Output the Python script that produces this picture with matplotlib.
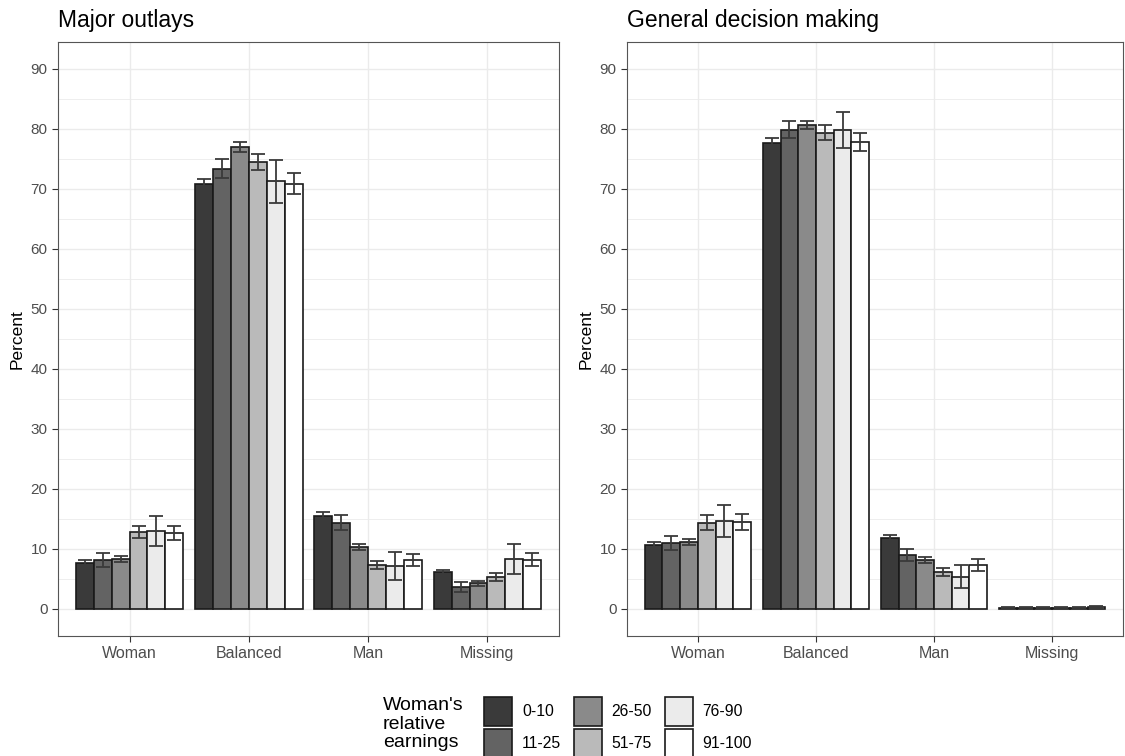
import numpy as np
import matplotlib
matplotlib.use("Agg")
import matplotlib.pyplot as plt
from matplotlib.patches import Patch

plt.rcParams['font.family'] = ['Liberation Sans', 'DejaVu Sans']

categories = ["Woman", "Balanced", "Man", "Missing"]
groups = ["0-10", "11-25", "26-50", "51-75", "76-90", "91-100"]
colors = ["#3a3a3a", "#636363", "#8a8a8a", "#bababa", "#ebebeb", "#ffffff"]

# major outlays: rows = category, cols = earnings group
outlays = [
    [7.7, 8.2, 8.4, 12.9, 13.0, 12.7],
    [70.8, 73.4, 77.0, 74.5, 71.3, 70.9],
    [15.5, 14.4, 10.3, 7.3, 7.2, 8.1],
    [6.1, 3.7, 4.3, 5.3, 8.4, 8.2],
]
outlays_err = [
    [0.5, 1.2, 0.5, 1.0, 2.5, 1.2],
    [0.9, 1.6, 0.8, 1.4, 3.6, 1.75],
    [0.7, 1.2, 0.5, 0.7, 2.3, 1.0],
    [0.4, 0.8, 0.4, 0.7, 2.5, 1.1],
]

# general decision making
general = [
    [10.6, 11.0, 11.2, 14.4, 14.7, 14.5],
    [77.6, 79.9, 80.7, 79.4, 79.9, 77.9],
    [11.8, 9.0, 8.1, 6.2, 5.4, 7.4],
    [0.2, 0.25, 0.2, 0.2, 0.2, 0.35],
]
general_err = [
    [0.6, 1.1, 0.5, 1.2, 2.7, 1.3],
    [0.85, 1.4, 0.7, 1.3, 3.0, 1.5],
    [0.6, 1.0, 0.5, 0.7, 1.95, 1.0],
    [0.1, 0.1, 0.1, 0.1, 0.1, 0.15],
]

W, H = 1125, 756
fig = plt.figure(figsize=(W / 100, H / 100), dpi=100)
ax1 = fig.add_axes([58 / W, 120 / H, 501 / W, 594 / H])
ax2 = fig.add_axes([627 / W, 120 / H, 496 / W, 594 / H])


def draw_panel(ax, vals, errs, title):
    vals = np.array(vals)
    errs = np.array(errs)
    x = np.arange(len(categories)) + 1
    n = len(groups)
    bw = 0.9 / n
    for j in range(n):
        xs = x - 0.45 + bw * (j + 0.5)
        ax.bar(xs, vals[:, j], width=bw, color=colors[j], edgecolor="#1a1a1a",
               linewidth=1.2, zorder=3)
        ax.errorbar(xs, vals[:, j], yerr=errs[:, j], fmt="none", ecolor="#3a3a3a",
                    elinewidth=1.3, capsize=5, capthick=1.3, zorder=4)
    ax.set_xlim(0.4, len(categories) + 0.6)
    ax.set_ylim(-4.5, 94.5)
    ax.set_xticks(x)
    ax.set_xticklabels(categories)
    ax.set_yticks(np.arange(0, 91, 10))
    ax.set_yticks(np.arange(5, 91, 10), minor=True)
    ax.grid(True, which="major", color="#ebebeb", linewidth=1.0, zorder=0)
    ax.grid(True, which="minor", axis="y", color="#ebebeb", linewidth=0.6, zorder=0)
    ax.set_axisbelow(True)
    for s in ax.spines.values():
        s.set_color("#555555")
        s.set_linewidth(0.8)
    ax.tick_params(which="major", colors="#333333", labelcolor="#4d4d4d",
                   labelsize=11, length=4, width=0.8)
    ax.tick_params(axis="x", labelsize=11.5)
    ax.tick_params(which="minor", length=0)
    ax.set_ylabel("Percent", fontsize=12.5, labelpad=4)
    ax.set_title(title, loc="left", fontsize=16.5, pad=11)


draw_panel(ax1, outlays, outlays_err, "Major outlays")
draw_panel(ax2, general, general_err, "General decision making")

handles = [Patch(facecolor=c, edgecolor="#1a1a1a", linewidth=1.2) for c in colors]
fig.legend(handles, groups, loc="upper left", bbox_to_anchor=(484 / W, 1 - 697 / H),
           ncol=3, frameon=False, fontsize=11.3, handlelength=1.8, handleheight=2.42,
           labelspacing=0.2, columnspacing=0.8, handletextpad=0.62, borderpad=0,
           borderaxespad=0)
fig.text(383 / W, 1 - 697 / H, "Woman's\nrelative\nearnings", fontsize=14,
         va="top", ha="left", linespacing=1.12)

fig.savefig("out.png", dpi=100, facecolor="white")
